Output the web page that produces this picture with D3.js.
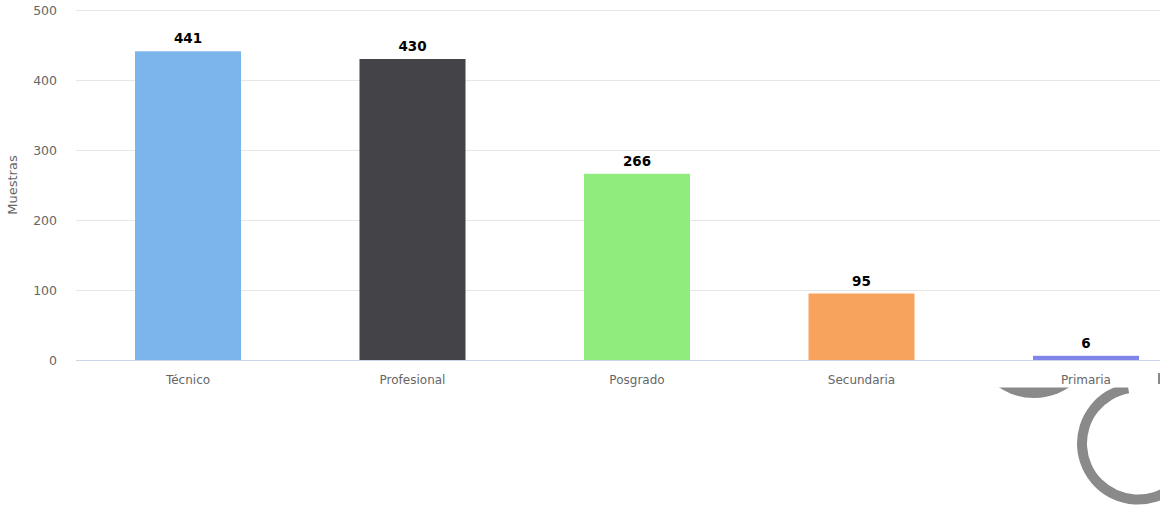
<!DOCTYPE html>
<html>
<head>
<meta charset="utf-8">
<script src="https://cdn.jsdelivr.net/npm/d3@7"></script>
<style>
  html, body { margin: 0; padding: 0; background: #ffffff; }
  svg { display: block; }
</style>
</head>
<body>
<svg id="chart" width="1160" height="507"></svg>
<script>
const categories = ["Técnico", "Profesional", "Posgrado", "Secundaria", "Primaria"];
const values = [441, 430, 266, 95, 6];
const colors = ["#7cb5ec", "#434348", "#90ed7d", "#f7a35c", "#8085e9"];
const yTicks = [0, 100, 200, 300, 400, 500];
const yTitle = "Muestras";

const W = 1160, H = 507;
const svg = d3.select("#chart");

const plotLeft = 75.75, step = 224.5;
const x = d3.scaleBand()
  .domain(categories)
  .range([plotLeft, plotLeft + step * categories.length])
  .paddingInner(1 - 106 / step)
  .paddingOuter((1 - 106 / step) / 2);

const y = d3.scaleLinear().domain([0, 500]).range([360, 10]);

// grid
svg.append("g").selectAll("line").data(yTicks.filter(d => d !== 0)).join("line")
  .attr("x1", 76).attr("x2", W)
  .attr("y1", d => y(d) + 0.5).attr("y2", d => y(d) + 0.5)
  .attr("stroke", "#e6e6e6").attr("stroke-width", 1);

// y tick labels
svg.append("g").selectAll("text").data(yTicks).join("text")
  .attr("x", 57).attr("y", d => y(d))
  .attr("dy", "0.36em")
  .attr("text-anchor", "end")
  .attr("font-family", "DejaVu Sans, Verdana, sans-serif")
  .attr("font-size", 12.5)
  .attr("fill", "#666666")
  .text(d => d);

// y title
svg.append("text")
  .attr("transform", `translate(17,${(y(0) + y(500)) / 2}) rotate(-90)`)
  .attr("text-anchor", "middle")
  .attr("font-family", "DejaVu Sans, Verdana, sans-serif")
  .attr("font-size", 13)
  .attr("fill", "#666666")
  .text(yTitle);

// bars
const data = categories.map((c, i) => ({ c, v: values[i], color: colors[i] }));
svg.append("g").selectAll("rect").data(data).join("rect")
  .attr("x", d => x(d.c))
  .attr("width", x.bandwidth())
  .attr("y", d => y(d.v))
  .attr("height", d => y(0) - y(d.v))
  .attr("fill", d => d.color);

// baseline
svg.append("line")
  .attr("x1", 76).attr("x2", W)
  .attr("y1", y(0) + 0.5).attr("y2", y(0) + 0.5)
  .attr("stroke", "#ccd6eb").attr("stroke-width", 1);

// data labels
svg.append("g").selectAll("text").data(data).join("text")
  .attr("x", d => x(d.c) + x.bandwidth() / 2)
  .attr("y", d => y(d.v) - 8)
  .attr("text-anchor", "middle")
  .attr("font-family", "DejaVu Sans, Verdana, sans-serif")
  .attr("font-weight", "bold")
  .attr("font-size", 13.5)
  .attr("fill", "#000000")
  .attr("stroke", "#ffffff").attr("stroke-width", 2).attr("paint-order", "stroke")
  .text(d => d.v);

// x labels
svg.append("g").selectAll("text").data(categories).join("text")
  .attr("x", d => x(d) + x.bandwidth() / 2)
  .attr("y", 384)
  .attr("text-anchor", "middle")
  .attr("font-family", "DejaVu Sans, Verdana, sans-serif")
  .attr("font-size", 12)
  .attr("fill", "#666666")
  .text(d => d);

// cut-off next label fragment
svg.append("rect").attr("x", 1158).attr("y", 373).attr("width", 2).attr("height", 11).attr("fill", "#888888");

// spinner overlay (clipped)
const defs = svg.append("defs");
defs.append("clipPath").attr("id", "spinclip")
  .append("rect").attr("x", 0).attr("y", 387.5).attr("width", W).attr("height", H - 387.5);
const sp = svg.append("g").attr("clip-path", "url(#spinclip)");
sp.append("circle").attr("cx", 1034).attr("cy", 335).attr("r", 63).attr("fill", "#8a8a8a");
const ringArc = d3.arc()
  .innerRadius(51).outerRadius(61)
  .startAngle(100 * Math.PI / 180)
  .endAngle(350 * Math.PI / 180);
sp.append("path")
  .attr("transform", "translate(1138,443.5)")
  .attr("d", ringArc())
  .attr("fill", "#8a8a8a");
</script>
</body>
</html>
